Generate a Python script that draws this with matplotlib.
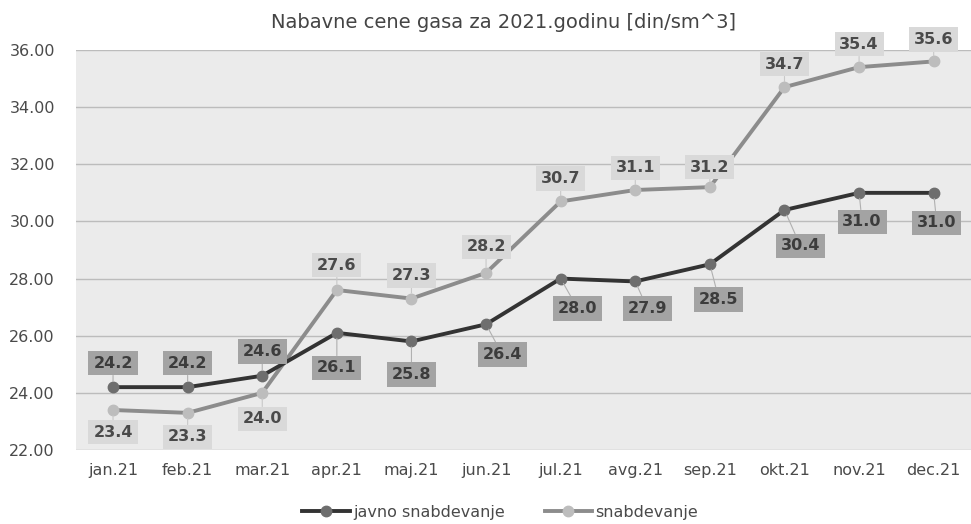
import matplotlib
matplotlib.use("Agg")
import matplotlib.pyplot as plt

categories = ["jan.21", "feb.21", "mar.21", "apr.21", "maj.21", "jun.21",
              "jul.21", "avg.21", "sep.21", "okt.21", "nov.21", "dec.21"]
javno = [24.2, 24.2, 24.6, 26.1, 25.8, 26.4, 28.0, 27.9, 28.5, 30.4, 31.0, 31.0]
snab = [23.4, 23.3, 24.0, 27.6, 27.3, 28.2, 30.7, 31.1, 31.2, 34.7, 35.4, 35.6]
yticks = [22, 24, 26, 28, 30, 32, 34, 36]
title = "Nabavne cene gasa za 2021.godinu [din/sm^3]"
series_names = ["javno snabdevanje", "snabdevanje"]

# label offsets in pixels (layout only)
javno_off = [(0, 24), (0, 24), (0, 24), (0, -35), (0, -33), (16, -30),
             (17, -30), (12, -27), (9, -35), (16, -36), (3, -29), (3, -30)]
snab_off = [(0, -22), (0, -24), (0, -26), (0, 25), (0, 23), (0, 26),
            (0, 23), (0, 22), (0, 20), (0, 23), (0, 23), (0, 22)]

plt.rcParams['font.family'] = ['DejaVu Sans']

fig = plt.figure(figsize=(9.71, 5.24), dpi=100)
ax = fig.add_axes([0.078, 0.1412, 0.922, 0.7634])
ax.set_facecolor('#ebebeb')
fig.patch.set_facecolor('white')

x = list(range(len(categories)))
ax.plot(x, javno, color='#333333', lw=2.8, marker='o', ms=7.5,
        mfc='#6e6e6e', mec='#6e6e6e', label=series_names[0], zorder=4)
ax.plot(x, snab, color='#8c8c8c', lw=2.8, marker='o', ms=7.5,
        mfc='#bdbdbd', mec='#bdbdbd', label=series_names[1], zorder=3)

px2pt = 0.72
for i, v in enumerate(javno):
    dx, dy = javno_off[i]
    ax.annotate(f"{v:.1f}", (i, v), xytext=(dx * px2pt, dy * px2pt),
                textcoords='offset points', ha='center', va='center',
                fontsize=11.5, fontweight='bold', color='#3c3c3c',
                bbox=dict(boxstyle='square,pad=0.3', fc='#a3a3a3', ec='none'),
                arrowprops=dict(arrowstyle='-', color='#b0b0b0', lw=0.8,
                                shrinkA=0, shrinkB=4), zorder=5)
for i, v in enumerate(snab):
    dx, dy = snab_off[i]
    ax.annotate(f"{v:.1f}", (i, v), xytext=(dx * px2pt, dy * px2pt),
                textcoords='offset points', ha='center', va='center',
                fontsize=11.5, fontweight='bold', color='#4a4a4a',
                bbox=dict(boxstyle='square,pad=0.3', fc='#d9d9d9', ec='none'),
                arrowprops=dict(arrowstyle='-', color='#c8c8c8', lw=0.8,
                                shrinkA=0, shrinkB=4), zorder=5)

ax.set_xlim(-0.5, len(categories) - 0.5)
ax.set_ylim(22, 36)
ax.set_yticks(yticks)
ax.set_yticklabels([f"{t:.2f}" for t in yticks], fontsize=11.5, color='#4a4a4a')
ax.set_xticks(x)
ax.set_xticklabels(categories, fontsize=11.5, color='#4a4a4a')
ax.tick_params(length=0, pad=9)
ax.tick_params(axis='y', pad=15)
ax.grid(axis='y', color='#bcbcbc', lw=1)
ax.set_axisbelow(True)
for s in ax.spines.values():
    s.set_visible(False)

fig.text(0.519, 0.958, title, ha='center', va='center', fontsize=14, color='#444444')

leg = fig.legend(loc='center', bbox_to_anchor=(0.515, 0.022), ncol=2, frameon=False,
                 fontsize=11.5, handlelength=3.0, handletextpad=0.2, columnspacing=2.5)
for t in leg.get_texts():
    t.set_color('#4a4a4a')

fig.savefig("out.png", dpi=100)
